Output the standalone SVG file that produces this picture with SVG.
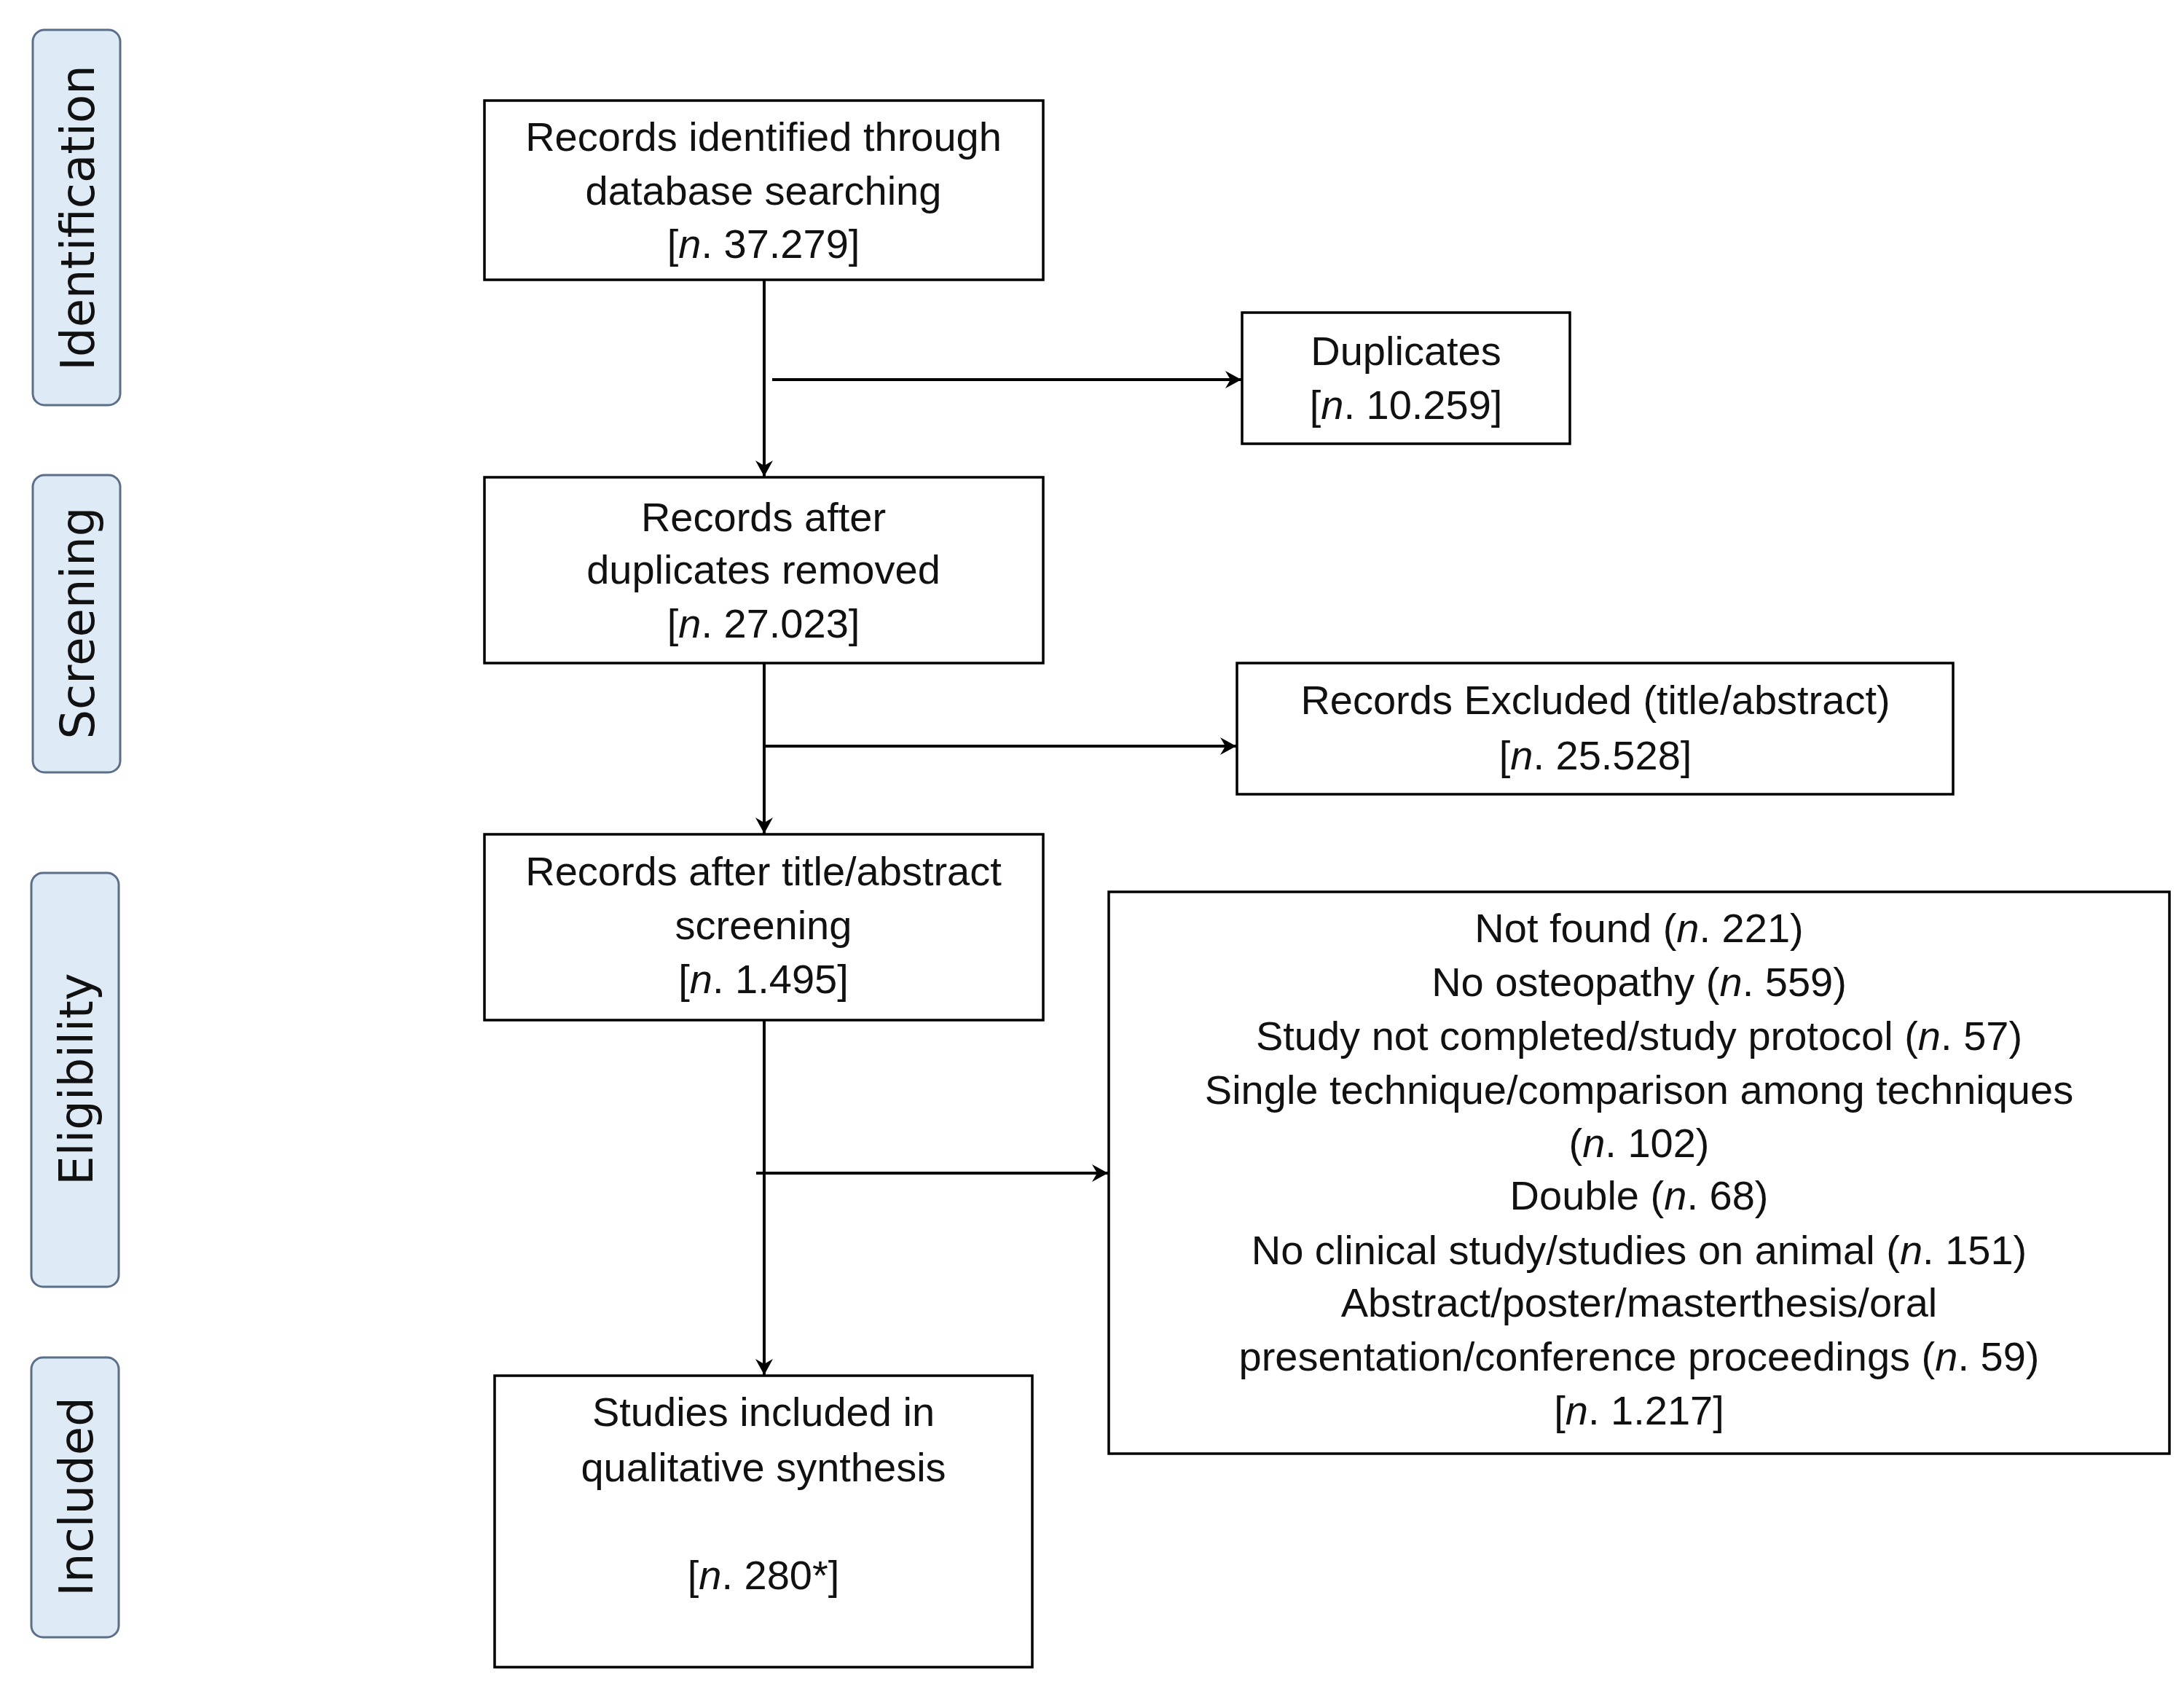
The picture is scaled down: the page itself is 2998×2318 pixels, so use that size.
<svg xmlns="http://www.w3.org/2000/svg" width="2998" height="2318" viewBox="0 0 2998 2318">
<style>
.lab{fill:#DEEBF7;stroke:#5B6F88;stroke-width:3}
.labt{font-family:"DejaVu Sans",sans-serif;font-size:64px;fill:#111;text-anchor:middle}
.box{fill:#fff;stroke:#000;stroke-width:3.5}
.t{font-family:"Liberation Sans",Arial,sans-serif;font-size:56px;fill:#111;text-anchor:middle}
.i{font-style:italic}
.c{stroke:#000;stroke-width:4;fill:none}
</style>
<defs>
<marker id="ah" markerUnits="userSpaceOnUse" viewBox="-24 -14 26 28" markerWidth="26" markerHeight="28" refX="0" refY="0" orient="auto">
<path d="M0,0 L-22,-12 L-15,0 L-22,12 Z" fill="#000"/>
</marker>
</defs>
<rect width="2998" height="2318" fill="#fff"/>

<g id="label-identification">
<rect class="lab" x="45" y="41" width="120" height="515" rx="16"/>
<text class="labt" transform="translate(129,299) rotate(-90)">Identification</text>
</g>
<g id="label-screening">
<rect class="lab" x="45" y="652" width="120" height="408" rx="16"/>
<text class="labt" transform="translate(129,855) rotate(-90)">Screening</text>
</g>
<g id="label-eligibility">
<rect class="lab" x="43" y="1198" width="120" height="568" rx="16"/>
<text class="labt" transform="translate(127,1481) rotate(-90)">Eligibility</text>
</g>
<g id="label-included">
<rect class="lab" x="43" y="1863" width="120" height="384" rx="16"/>
<text class="labt" transform="translate(127,2054) rotate(-90)">Included</text>
</g>

<g id="connectors">
<line class="c" x1="1049" y1="384" x2="1049" y2="654" marker-end="url(#ah)"/>
<line class="c" x1="1060" y1="521" x2="1704" y2="521" marker-end="url(#ah)"/>
<line class="c" x1="1049" y1="910" x2="1049" y2="1144" marker-end="url(#ah)"/>
<line class="c" x1="1049" y1="1024" x2="1697" y2="1024" marker-end="url(#ah)"/>
<line class="c" x1="1049" y1="1400" x2="1049" y2="1887" marker-end="url(#ah)"/>
<line class="c" x1="1038" y1="1610" x2="1521" y2="1610" stroke="#333" marker-end="url(#ah)"/>
</g>

<g id="node-identified">
<rect class="box" x="665" y="138" width="767" height="246" stroke="#4A5A78"/>
<text class="t" x="1048" y="207">Records identified through</text>
<text class="t" x="1048" y="281">database searching</text>
<text class="t" x="1048" y="354">[<tspan class="i">n</tspan>. 37.279]</text>
</g>
<g id="node-duplicates">
<rect class="box" x="1705" y="429" width="450" height="180"/>
<text class="t" x="1930" y="501">Duplicates</text>
<text class="t" x="1930" y="575">[<tspan class="i">n</tspan>. 10.259]</text>
</g>
<g id="node-after-duplicates">
<rect class="box" x="665" y="655" width="767" height="255"/>
<text class="t" x="1048" y="729">Records after</text>
<text class="t" x="1048" y="801">duplicates removed</text>
<text class="t" x="1048" y="875">[<tspan class="i">n</tspan>. 27.023]</text>
</g>
<g id="node-excluded">
<rect class="box" x="1698" y="910" width="983" height="180"/>
<text class="t" x="2190" y="980">Records Excluded (title/abstract)</text>
<text class="t" x="2190" y="1056">[<tspan class="i">n</tspan>. 25.528]</text>
</g>
<g id="node-after-screening">
<rect class="box" x="665" y="1145" width="767" height="255"/>
<text class="t" x="1048" y="1215">Records after title/abstract</text>
<text class="t" x="1048" y="1289">screening</text>
<text class="t" x="1048" y="1363">[<tspan class="i">n</tspan>. 1.495]</text>
</g>
<g id="node-reasons">
<rect class="box" x="1522" y="1224" width="1456" height="771"/>
<text class="t" x="2250" y="1293">Not found (<tspan class="i">n</tspan>. 221)</text>
<text class="t" x="2250" y="1367">No osteopathy (<tspan class="i">n</tspan>. 559)</text>
<text class="t" x="2250" y="1441">Study not completed/study protocol (<tspan class="i">n</tspan>. 57)</text>
<text class="t" x="2250" y="1515">Single technique/comparison among techniques</text>
<text class="t" x="2250" y="1588">(<tspan class="i">n</tspan>. 102)</text>
<text class="t" x="2250" y="1660">Double (<tspan class="i">n</tspan>. 68)</text>
<text class="t" x="2250" y="1735">No clinical study/studies on animal (<tspan class="i">n</tspan>. 151)</text>
<text class="t" x="2250" y="1807">Abstract/poster/masterthesis/oral</text>
<text class="t" x="2250" y="1881">presentation/conference proceedings (<tspan class="i">n</tspan>. 59)</text>
<text class="t" x="2250" y="1955">[<tspan class="i">n</tspan>. 1.217]</text>
</g>
<g id="node-included">
<rect class="box" x="679" y="1888" width="738" height="400"/>
<text class="t" x="1048" y="1957">Studies included in</text>
<text class="t" x="1048" y="2033">qualitative synthesis</text>
<text class="t" x="1048" y="2181">[<tspan class="i">n</tspan>. 280*]</text>
</g>
</svg>
